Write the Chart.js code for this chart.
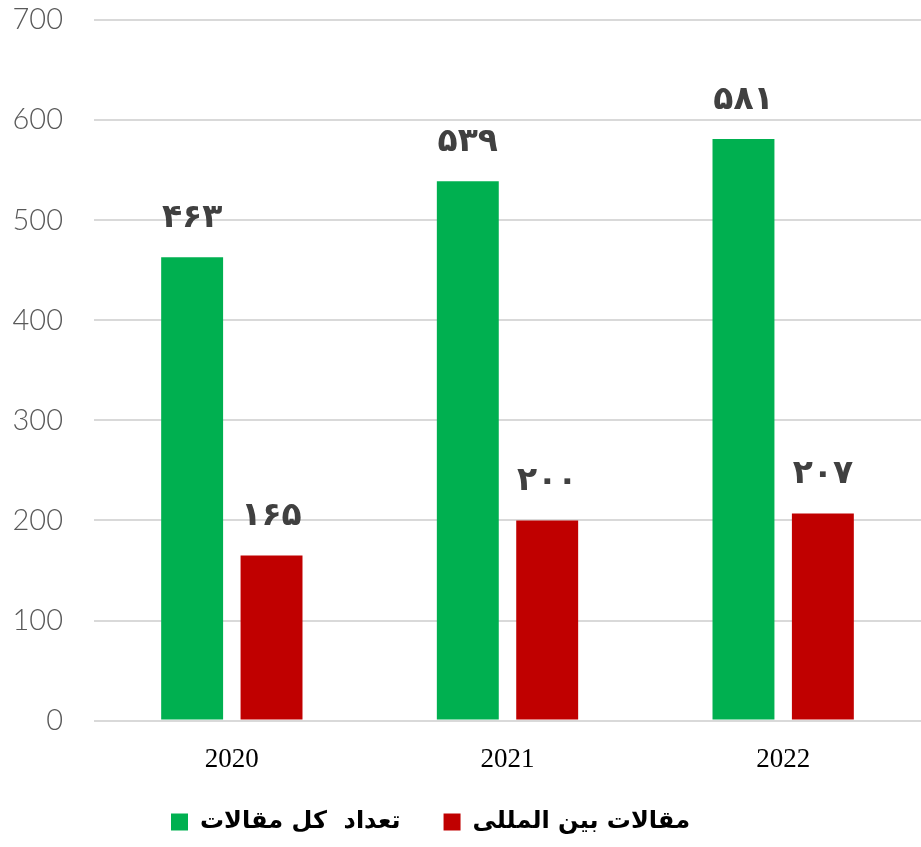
<!DOCTYPE html>
<html>
<head>
<meta charset="utf-8">
<script src="https://cdn.jsdelivr.net/npm/chart.js@4"></script>
<style>
    html, body { margin: 0; padding: 0; background: #fff; }
    #wrap { width: 921px; height: 847px; }
</style>
</head>
<body>
<div id="wrap"><canvas id="articlesChart"></canvas></div>
<script>
// Chart data
const years = ['2020', '2021', '2022'];
const totalArticles = [463, 539, 581];
const intlArticles = [165, 200, 207];
const seriesNames = ['تعداد  کل مقالات', 'مقالات بین المللی'];
const yTicks = [0, 100, 200, 300, 400, 500, 600, 700];

// Persian digits for the value labels
function toPersian(n) {
    const digits = '۰۱۲۳۴۵۶۷۸۹';
    return String(n).replace(/[0-9]/g, d => digits[d]);
}

// Draw value labels above each bar
const valueLabels = {
    id: 'valueLabels',
    afterDatasetsDraw(chart) {
        const ctx = chart.ctx;
        ctx.save();
        ctx.font = 'bold 33px "DejaVu Sans"';
        ctx.fillStyle = '#404040';
        ctx.textAlign = 'center';
        ctx.textBaseline = 'middle';
        chart.data.datasets.forEach((ds, i) => {
            chart.getDatasetMeta(i).data.forEach((bar, j) => {
                ctx.fillText(toPersian(ds.data[j]), bar.x, bar.y - 39);
            });
        });
        ctx.restore();
    }
};

const ctx = document.getElementById('articlesChart');
new Chart(ctx, {
    type: 'bar',
    data: {
        labels: years,
        datasets: [
            {
                label: seriesNames[0],
                data: totalArticles,
                backgroundColor: '#00b050',
                categoryPercentage: 0.576,
                barPercentage: 0.78
            },
            {
                label: seriesNames[1],
                data: intlArticles,
                backgroundColor: '#c00000',
                categoryPercentage: 0.576,
                barPercentage: 0.78
            }
        ]
    },
    options: {
        responsive: true,
        maintainAspectRatio: false,
        animation: false,
        layout: {
            padding: { top: 20, right: 0, bottom: 3, left: 0 }
        },
        plugins: {
            legend: {
                position: 'bottom',
                labels: {
                    boxWidth: 17,
                    boxHeight: 17,
                    padding: 19,
                    color: '#000',
                    font: { family: '"DejaVu Sans"', size: 24, weight: 'bold' },
                    generateLabels: function(chart) {
                        const items = Chart.defaults.plugins.legend.labels.generateLabels(chart);
                        // extra room after each entry (legend sits left of centre)
                        items[0].text = '\u2002\u2002' + items[0].text;
                        items[1].text = '\u2002\u2002\u2002\u2002\u2002' + items[1].text;
                        return items;
                    }
                },
                textDirection: 'rtl'
            },
            tooltip: { enabled: false }
        },
        scales: {
            x: {
                grid: { display: false },
                border: { display: false },
                ticks: {
                    color: '#000',
                    padding: 15,
                    font: { family: '"Liberation Serif"', size: 27 }
                }
            },
            y: {
                min: 0,
                max: 700,
                afterFit: function(scale) {
                    scale.width = 94;
                    scale.paddingTop = 0;
                    scale.paddingBottom = 0;
                },
                afterBuildTicks: function(scale) {
                    scale.ticks = yTicks.map(v => ({ value: v }));
                },
                grid: { color: '#d9d9d9', lineWidth: 2, drawTicks: false },
                border: { display: false },
                ticks: {
                    color: '#595959',
                    padding: 31,
                    font: { family: 'Lato', size: 29, weight: 300 }
                }
            }
        }
    },
    plugins: [valueLabels]
});
</script>
</body>
</html>
